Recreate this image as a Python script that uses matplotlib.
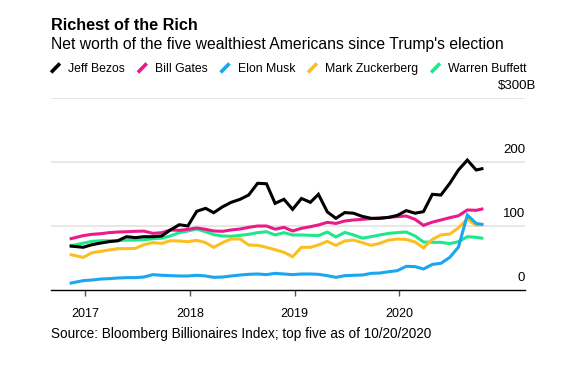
import matplotlib
matplotlib.use("Agg")
import matplotlib.pyplot as plt
from matplotlib.legend_handler import HandlerBase
from matplotlib.lines import Line2D
import pandas as pd

plt.rcParams["font.family"] = ["Liberation Sans", "DejaVu Sans"]

# ---- data ----
start_date = ["2016-11-08"]
monthly_dates = list(pd.date_range("2016-12-01", "2020-09-01", freq="MS") + pd.Timedelta(days=24))
end_date = ["2020-10-20"]
dates = pd.to_datetime(start_date + [d.strftime("%Y-%m-%d") for d in monthly_dates] + end_date)

names = ["Jeff Bezos", "Bill Gates", "Elon Musk", "Mark Zuckerberg", "Warren Buffett"]

bezos = [68.8, 66.7, 70.8, 73.4, 75.5, 77, 83.3, 81.8, 83.3, 83.3, 84.4, 93.8, 102, 100, 123, 127.6,
         120.8, 130, 137, 141.7, 148.4, 166.7, 166, 135.4, 141.7, 126, 143, 137, 149.5, 122, 112, 121,
         120, 115, 112, 112, 113.5, 116.6, 124, 120, 122.4, 149.5, 148.4, 166.7, 187.5, 203, 187.5, 190]
gates = [79.7, 84.9, 87, 88, 89.6, 90.6, 91, 91.7, 92, 88.5, 89.6, 93.8, 93.2, 94.8, 96.9, 94.8,
         92.2, 91.7, 93.8, 95.3, 97.9, 100, 100, 95, 97.9, 92.2, 96.4, 98.9, 101.6, 105.7, 104, 107.8,
         109.4, 110.4, 111.5, 112.5, 113.5, 114.6, 115.6, 110.4, 101, 106, 109.4, 113, 116, 125, 124.5, 127]
musk = [10.4, 14.6, 15.6, 17.2, 17.7, 18.75, 19.3, 19.3, 20.3, 24, 23, 22.4, 21.9, 21.9, 23, 21.9,
        19.8, 20.3, 21.9, 23.4, 24.5, 25, 24, 26, 25, 24, 25, 25, 24.5, 22.4, 19.8, 22.4,
        23, 23.4, 26, 26.5, 28.6, 30.2, 37, 36.5, 32.8, 40, 41.7, 51, 67, 117, 104, 102]
zuckerberg = [55.7, 51, 58.3, 60.4, 62.5, 64.6, 64.6, 65, 70.8, 74, 72.9, 77, 76.6, 75.5, 77.6, 74,
              66.7, 74, 79.7, 79.7, 70.3, 69.8, 66.7, 63, 58.9, 52, 66.7, 66.7, 70.3, 76, 69.8, 76.6,
              78, 74, 69.8, 73, 78, 79.7, 79, 75, 66, 79, 86, 87.5, 97, 111, 101, 103]
buffett = [68.8, 73, 76, 77, 77, 77, 78, 78, 78.6, 80, 81, 84.4, 89.6, 92.2, 95.3, 91,
           86.5, 84.4, 83.9, 85.4, 87, 89.6, 91, 86, 89.6, 86, 86, 85.4, 85, 90.6, 82.8, 90,
           86, 81, 83.3, 86, 88.5, 89.6, 90.6, 84.4, 75, 74.5, 74.5, 72.4, 75.5, 83.3, 82.3, 80.7]

series = [bezos, gates, musk, zuckerberg, buffett]
colors = ["#000000", "#ea1a8b", "#1ba6f0", "#fbc01f", "#1fe88c"]

ytick_values = [0, 100, 200, 300]
ytick_labels = ["0", "100", "200", "$300B"]
xtick_years = [2017, 2018, 2019, 2020]

# ---- figure ----
W, H = 584, 374
fig = plt.figure(figsize=(W / 100, H / 100), dpi=100)
ax = fig.add_axes([51 / W, (H - 290) / H, 474 / W, 192 / H])

for s, c in list(zip(series, colors))[::-1]:
    ax.plot(dates, s, color=c, lw=2.2, solid_joinstyle="miter", solid_capstyle="butt")

ax.set_ylim(0, 300)
ax.set_xlim(pd.Timestamp("2016-09-04"), pd.Timestamp("2021-03-14"))

for v, lab in zip(ytick_values, ytick_labels):
    if v > 0:
        ax.axhline(v, color="#e3e3e3", lw=1.2, zorder=0)
    dx = 8 if lab.endswith("B") else 0
    ax.annotate(lab, xy=(1.0, v), xycoords=("axes fraction", "data"),
                xytext=(dx, 4), textcoords="offset points",
                ha="right", va="bottom", fontsize=9.5, color="#000000")

for side in ["top", "right", "left"]:
    ax.spines[side].set_visible(False)
ax.spines["bottom"].set_color("#000000")
ax.spines["bottom"].set_linewidth(1.0)
ax.set_yticks([])
ax.set_xticks([pd.Timestamp(f"{y}-01-01") for y in xtick_years])
ax.set_xticklabels([str(y) for y in xtick_years])
ax.tick_params(axis="x", direction="out", length=4, width=1, color="#555555",
               pad=9, labelsize=9, labelcolor="#000000")

# titles
fig.text(51 / W, 1 - 25 / H, "Richest of the Rich", fontsize=11.7, fontweight="bold",
         ha="left", va="center")
fig.text(51 / W, 1 - 44 / H, "Net worth of the five wealthiest Americans since Trump's election",
         fontsize=11.35, ha="left", va="center")
fig.text(51 / W, 1 - 334 / H, "Source: Bloomberg Billionaires Index; top five as of 10/20/2020",
         fontsize=9.8, ha="left", va="center")


class DiagHandler(HandlerBase):
    def create_artists(self, legend, orig_handle, xdescent, ydescent, width, height, fontsize, trans):
        x0, y0 = -xdescent, -ydescent
        line = Line2D([x0 + 0.1 * width, x0 + 0.9 * width], [y0 - 0.05 * height, y0 + 1.0 * height],
                      color=orig_handle.get_color(), lw=2.6, solid_capstyle="butt", transform=trans)
        return [line]


handles = [Line2D([], [], color=c) for c in colors]
fig.legend(handles, names, loc="center left", bbox_to_anchor=(50 / W, 1 - 69 / H), ncol=5,
           frameon=False, handler_map={Line2D: DiagHandler()}, handlelength=0.9,
           handletextpad=0.6, columnspacing=0.95, borderpad=0, borderaxespad=0, fontsize=8.8)

fig.savefig("out.png", dpi=100)
